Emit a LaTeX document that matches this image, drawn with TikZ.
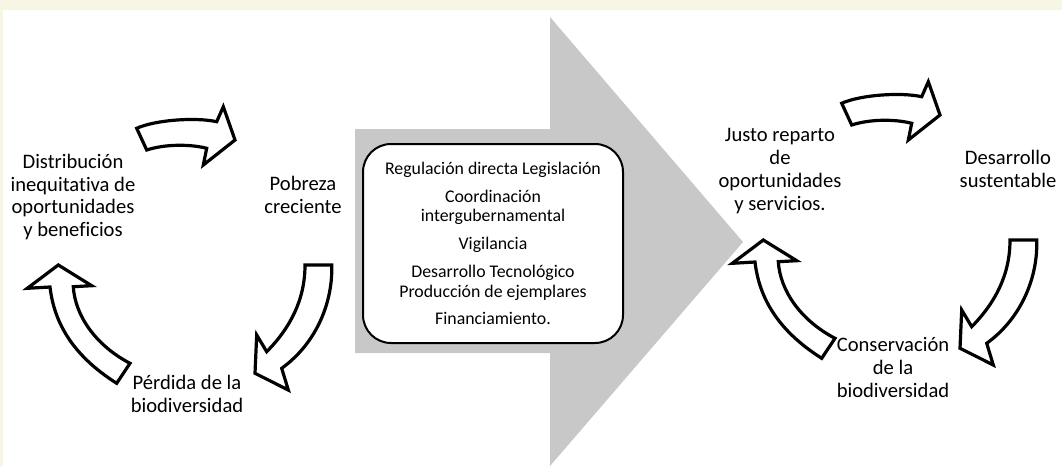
\documentclass[tikz,border=0pt]{standalone}
\usepackage{fontspec}
\setmainfont{Carlito}[Ligatures={NoCommon}]
\definecolor{cream}{RGB}{247,246,229}
\definecolor{arrowgray}{RGB}{200,200,200}
\newcommand\cyclearrows{%
  \draw[cyc] (136.7,128.3) .. controls (155,120) and (195,117) .. (216.7,121.7)
     -- (223.3,106.7) -- (235,140) -- (203.3,165) -- (206.7,148.3)
     .. controls (190,144) and (165,144) .. (146.7,150) -- cycle;
  \draw[cyc] (305,265) -- (331.7,265) .. controls (333,300) and (318,342) .. (281.7,368.3)
     -- (288.3,390) -- (255,373.3) -- (256.7,335) -- (266.7,351.7)
     .. controls (290,328) and (305,300) .. cycle;
  \draw[cyc] (116.7,383.3) .. controls (80,360) and (55,330) .. (50,287)
     -- (27.3,288.3) -- (58.3,265) -- (91.7,285.7) -- (73.3,286.7)
     .. controls (75,315) and (95,345) .. (130,363.3) -- cycle;
}
\begin{document}
\begin{tikzpicture}[x=1pt,y=-1pt,
  lab/.style={align=center, font=\fontsize{20.6}{22.8}\selectfont, inner sep=0pt},
  boxnode/.style={draw=black, line width=2pt, rounded corners=28pt, fill=white,
    minimum width=260pt, minimum height=199pt, align=center,
    font=\fontsize{17.8}{19.7}\selectfont, inner sep=0pt},
  cyc/.style={draw=black, line width=3.2pt, fill=white, line join=miter}]
\useasboundingbox (0,0) rectangle (1062,466);
\fill[cream] (0,0) rectangle (1062,466);
\fill[white] (3,10) rectangle (1062,466);
% big gray arrow
\fill[arrowgray] (355,129) -- (550,129) -- (550,17) -- (743,242) -- (550,466)
   -- (550,353) -- (355,353) -- cycle;
% left cycle
\cyclearrows
\node[lab] (dist) at (73,197.1) {Distribución\\inequitativa de\\oportunidades\\y beneficios};
\node[lab] (pob) at (303,194.6) {Pobreza\\creciente};
\node[lab] (perd) at (187,394.1) {Pérdida de la\\biodiversidad};
% right cycle
\begin{scope}[shift={(705,-25)}]
\cyclearrows
\end{scope}
\node[lab] (justo) at (780,171.1) {Justo reparto\\de\\oportunidades\\y servicios.};
\node[lab] (desa) at (1008,169.1) {Desarrollo\\sustentable};
\node[lab] (cons) at (893,367.6) {Conservación\\de la\\biodiversidad};
% central box
\node[boxnode] (box) at (493,243.5) {Regulación directa Legislación\\[8pt]Coordinación\\intergubernamental\\[8pt]Vigilancia\\[8pt]Desarrollo Tecnológico\\Producción de ejemplares\\[8pt]Financiamiento.};
\end{tikzpicture}
\end{document}
